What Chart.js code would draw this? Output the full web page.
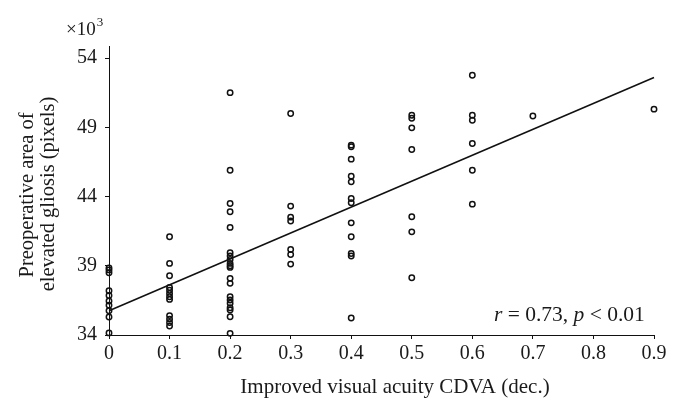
<!DOCTYPE html>
<html>
<head>
<meta charset="utf-8">
<script src="https://cdn.jsdelivr.net/npm/chart.js@4"></script>
<style>
html,body{margin:0;padding:0;background:#fff;}
#wrap{width:680px;height:414px;position:relative;}
</style>
</head>
<body>
<div id="wrap"><canvas id="c" width="680" height="414"></canvas></div>
<script>
// Improved visual acuity CDVA (dec.) for each subject
const cdva = [
  0,0,0,0,0,0,0,0,0,0,
  0.1,0.1,0.1,0.1,0.1,0.1,0.1,0.1,0.1,0.1,0.1,0.1,
  0.2,0.2,0.2,0.2,0.2,0.2,0.2,0.2,0.2,0.2,0.2,0.2,0.2,0.2,0.2,0.2,0.2,0.2,0.2,0.2,
  0.3,0.3,0.3,0.3,0.3,0.3,0.3,
  0.4,0.4,0.4,0.4,0.4,0.4,0.4,0.4,0.4,0.4,0.4,0.4,
  0.5,0.5,0.5,0.5,0.5,0.5,0.5,
  0.6,0.6,0.6,0.6,0.6,0.6,
  0.7,
  0.9
];
// Preoperative area of elevated gliosis (×10^3 pixels)
const gliosis = [
  38.85,38.7,38.5,37.2,36.85,36.45,36.15,35.75,35.3,34.15,
  41.1,39.17,38.28,37.43,37.23,37.0,36.76,36.57,35.4,35.15,34.9,34.65,
  51.5,45.9,43.5,42.9,41.77,39.94,39.7,39.46,39.17,39.0,38.88,38.09,37.73,36.77,36.53,36.29,35.97,35.8,35.32,34.12,
  50.0,43.31,42.51,42.23,40.17,39.81,39.12,
  47.71,47.59,46.7,45.47,45.06,43.86,43.55,42.1,41.09,39.89,39.7,35.23,
  49.87,49.65,48.96,47.4,42.54,41.45,38.13,
  52.76,49.87,49.51,47.83,45.9,43.45,
  49.82,
  50.31
];
// Fitted regression line end points
const fitX = [0, 0.9];
const fitY = [35.75, 52.6];
const xTicks = [0,0.1,0.2,0.3,0.4,0.5,0.6,0.7,0.8,0.9];
const xTickLabels = ["0","0.1","0.2","0.3","0.4","0.5","0.6","0.7","0.8","0.9"];
const yTicks = [34,39,44,49,54];
const yTickLabels = ["34","39","44","49","54"];

const SERIF = "'Liberation Serif', 'DejaVu Serif', serif";

const textPlugin = {
  id: 'texts',
  afterDraw(chart) {
    const ctx = chart.ctx;
    ctx.save();
    ctx.fillStyle = '#1a1a1a';
    // x axis title
    ctx.font = "21px " + SERIF;
    ctx.textAlign = 'center';
    ctx.textBaseline = 'alphabetic';
    ctx.fillText('Improved visual acuity CDVA (dec.)', 395, 393);
    // y axis title (two lines, rotated)
    ctx.save();
    ctx.rotate(-Math.PI / 2);
    ctx.font = "20.5px " + SERIF;
    ctx.textAlign = 'center';
    ctx.fillText('Preoperative area of', -195, 33);
    ctx.fillText('elevated gliosis (pixels)', -194, 54);
    ctx.restore();
    // ×10^3
    ctx.textAlign = 'left';
    ctx.font = "19px " + SERIF;
    ctx.fillText('\u00d710', 66, 35);
    const w = ctx.measureText('\u00d710').width;
    ctx.font = "13px " + SERIF;
    ctx.fillText('3', 66 + w + 1, 26);
    // r = 0.73, p < 0.01
    const parts = [
      ['r', true], [' = 0.73, ', false], ['p', true], [' < 0.01', false]
    ];
    let x = 494;
    const y = 321;
    for (const [t, it] of parts) {
      ctx.font = (it ? 'italic ' : '') + "21.5px " + SERIF;
      ctx.fillText(t, x, y);
      x += ctx.measureText(t).width;
    }
    ctx.restore();
  }
};

new Chart(document.getElementById('c'), {
  data: {
    datasets: [
      {
        type: 'scatter',
        data: cdva.map((v, i) => ({x: v, y: gliosis[i]})),
        pointStyle: 'circle',
        pointRadius: 2.7,
        pointHoverRadius: 2.7,
        pointBorderWidth: 1.5,
        borderColor: '#111',
        backgroundColor: 'rgba(0,0,0,0)',
        clip: false,
        order: 1
      },
      {
        type: 'line',
        data: fitX.map((v, i) => ({x: v, y: fitY[i]})),
        borderColor: '#111',
        borderWidth: 1.6,
        pointRadius: 0,
        fill: false,
        clip: false,
        order: 2
      }
    ]
  },
  options: {
    responsive: false,
    animation: false,
    devicePixelRatio: 1,
    layout: { padding: { left: 0, top: 46, right: 26, bottom: 0 } },
    plugins: { legend: { display: false }, tooltip: { enabled: false } },
    scales: {
      x: {
        type: 'linear',
        min: 0, max: 0.9,
        afterBuildTicks(s) { s.ticks = xTicks.map(v => ({value: v})); },
        afterFit(s) { s.height = 79; },
        ticks: {
          callback: (v, i) => xTickLabels[i],
          font: { family: SERIF, size: 20 },
          color: '#1a1a1a',
          padding: 3,
          maxRotation: 0,
          autoSkip: false
        },
        grid: { drawOnChartArea: false, drawTicks: true, tickLength: 4, color: '#111', lineWidth: 1 },
        border: { display: true, color: '#111', width: 1 }
      },
      y: {
        type: 'linear',
        min: 34, max: 54.87,
        afterBuildTicks(s) { s.ticks = yTicks.map(v => ({value: v})); },
        afterFit(s) { s.width = 109; },
        ticks: {
          callback: (v, i) => yTickLabels[i],
          font: { family: SERIF, size: 20 },
          color: '#1a1a1a',
          padding: 8,
          autoSkip: false
        },
        grid: { drawOnChartArea: false, drawTicks: true, tickLength: 4, color: '#111', lineWidth: 1 },
        border: { display: true, color: '#111', width: 1 }
      }
    }
  },
  plugins: [textPlugin]
});
</script>
</body>
</html>
